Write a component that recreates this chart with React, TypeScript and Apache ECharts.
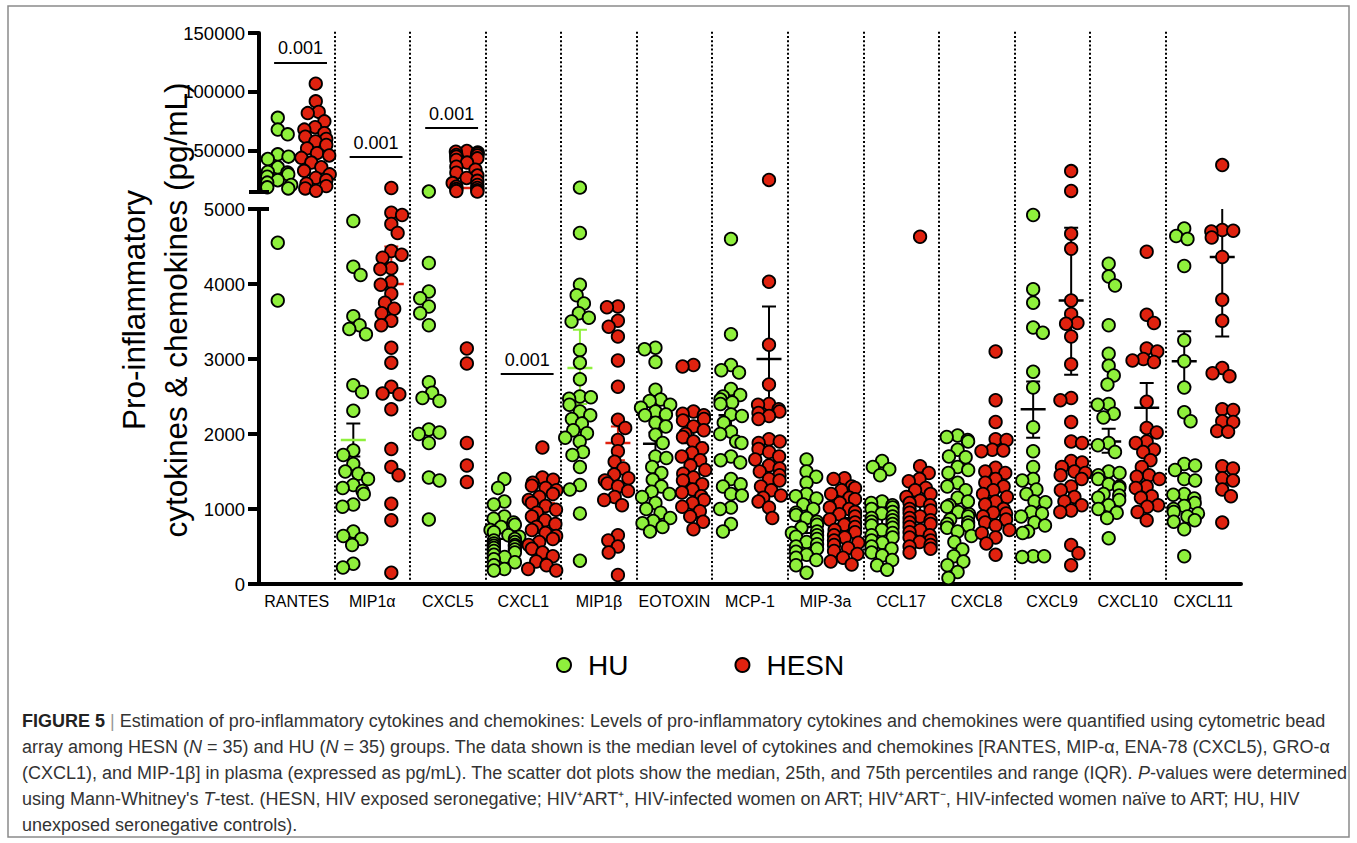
import React, { useEffect, useRef } from 'react';
import * as echarts from 'echarts';

// ---------------- DATA ----------------
const CATEGORIES = ['RANTES', 'MIP1α', 'CXCL5', 'CXCL1', 'MIP1β', 'EOTOXIN', 'MCP-1', 'MIP-3a', 'CCL17', 'CXCL8', 'CXCL9', 'CXCL10', 'CXCL11'];

const HU_RANTES = [78000, 68000, 64000, 47000, 45000, 43000, 36000, 32000, 31500, 30000, 28000, 25000, 23000, 21000, 19000, 18000, 4550, 3780];
const HESN_RANTES = [107000, 92000, 83000, 82000, 75000, 70000, 68000, 65000, 62000, 60000, 58000, 55000, 52000, 48000, 46000, 44000, 40000, 36000, 33000, 30000, 27000, 25000, 22000, 20000, 18000, 16000];
const HU_MIP1A = [4840, 4230, 4120, 3570, 3450, 3400, 3330, 2650, 2560, 2310, 1780, 1720, 1600, 1500, 1470, 1400, 1320, 1280, 1240, 1200, 1060, 1030, 700, 640, 600, 520, 270, 220];
const HESN_MIP1A = [18400, 4950, 4920, 4800, 4680, 4440, 4390, 4350, 4210, 4200, 4030, 3990, 3870, 3750, 3670, 3610, 3510, 3450, 3150, 2950, 2630, 2540, 2530, 2330, 1800, 1560, 1450, 1070, 850, 150];
const HU_CXCL5 = [15400, 4280, 3900, 3810, 3700, 3610, 3450, 2690, 2550, 2480, 2440, 2060, 2020, 2000, 1880, 1420, 1380, 860];
const HESN_CXCL5 = [49800, 49200, 48500, 47500, 46400, 46000, 45000, 43600, 42200, 40000, 36500, 34000, 31400, 29000, 26900, 24500, 22600, 21000, 19500, 18400, 17500, 16500, 15800, 15300, 3140, 2940, 1880, 1580, 1360];
const HU_CXCL1 = [1400, 1280, 1100, 1060, 900, 870, 820, 790, 760, 720, 690, 650, 630, 600, 580, 560, 540, 520, 510, 500, 480, 460, 440, 420, 390, 360, 330, 290, 250, 200, 180];
const HESN_CXCL1 = [1820, 1420, 1390, 1350, 1310, 1280, 1250, 1200, 1160, 1120, 1080, 1040, 990, 950, 900, 850, 800, 760, 720, 680, 640, 600, 560, 520, 470, 420, 370, 300, 250, 200, 180];
const HU_MIP1B = [18700, 4680, 3990, 3850, 3740, 3610, 3550, 3500, 3120, 2950, 2730, 2500, 2490, 2470, 2390, 2300, 2250, 2200, 2140, 2050, 2010, 1950, 1900, 1760, 1720, 1560, 1320, 1260, 940, 310];
const HESN_MIP1B = [3700, 3690, 3510, 3430, 3300, 2980, 2630, 2190, 2080, 1920, 1770, 1630, 1540, 1460, 1410, 1380, 1340, 1300, 1240, 1160, 1120, 1050, 650, 580, 500, 420, 120];
const HU_EOTOXIN = [3150, 3130, 2960, 2590, 2460, 2440, 2390, 2350, 2300, 2260, 2250, 2150, 2100, 1990, 1880, 1700, 1680, 1560, 1480, 1390, 1300, 1230, 1200, 1160, 1080, 1000, 950, 880, 840, 810, 760, 700];
const HESN_EOTOXIN = [2920, 2900, 2300, 2270, 2250, 2200, 2180, 2100, 2050, 2000, 1960, 1900, 1810, 1750, 1700, 1650, 1580, 1520, 1470, 1420, 1380, 1330, 1260, 1220, 1170, 1120, 1080, 1030, 970, 900, 830, 730];
const HU_MCP1 = [4600, 3330, 2920, 2850, 2820, 2600, 2520, 2500, 2460, 2420, 2400, 2260, 2240, 2150, 2030, 2000, 1900, 1880, 1700, 1650, 1620, 1400, 1330, 1300, 1200, 1180, 1020, 1000, 800, 700];
const HESN_MCP1 = [25200, 4030, 3190, 2660, 2400, 2390, 2330, 2300, 2280, 2240, 2200, 1930, 1900, 1880, 1800, 1760, 1700, 1660, 1580, 1540, 1500, 1450, 1400, 1380, 1300, 1250, 1180, 1150, 1100, 1020, 880];
const HU_MIP3A = [1660, 1500, 1430, 1350, 1200, 1170, 1140, 1060, 1000, 950, 920, 880, 830, 790, 750, 700, 680, 650, 630, 600, 560, 530, 500, 470, 430, 390, 350, 320, 250, 150];
const HESN_MIP3A = [1410, 1400, 1300, 1280, 1250, 1200, 1150, 1130, 1080, 1020, 1000, 960, 930, 900, 860, 820, 790, 760, 720, 690, 650, 620, 580, 550, 520, 480, 440, 400, 350, 300, 260];
const HU_CCL17 = [1640, 1560, 1530, 1450, 1100, 1080, 1050, 1020, 1000, 960, 940, 900, 880, 850, 830, 800, 780, 750, 720, 680, 650, 620, 580, 550, 500, 470, 420, 380, 320, 250, 190];
const HESN_CCL17 = [4630, 1570, 1480, 1400, 1370, 1280, 1250, 1200, 1160, 1110, 1080, 1050, 1000, 980, 950, 900, 880, 850, 820, 800, 760, 720, 690, 650, 620, 580, 560, 520, 500, 470, 420];
const HU_CXCL8 = [1980, 1960, 1920, 1900, 1790, 1700, 1690, 1560, 1520, 1480, 1350, 1300, 1250, 1150, 1100, 1050, 1030, 960, 930, 900, 860, 820, 800, 780, 750, 700, 640, 560, 460, 370, 300, 250, 160, 80];
const HESN_CXCL8 = [3100, 2450, 2160, 1930, 1920, 1790, 1780, 1770, 1550, 1500, 1480, 1400, 1350, 1300, 1250, 1200, 1160, 1100, 1060, 1000, 950, 940, 900, 860, 820, 780, 720, 680, 620, 540, 390];
const HU_CXCL9 = [4920, 3930, 3750, 3420, 3350, 2830, 2620, 2090, 1770, 1560, 1400, 1380, 1260, 1200, 1100, 1090, 960, 940, 900, 820, 780, 700, 680, 370, 370, 360];
const HESN_CXCL9 = [32800, 15900, 4670, 4470, 3780, 3600, 3480, 3470, 3300, 2930, 2480, 2450, 2160, 1900, 1880, 1640, 1620, 1560, 1500, 1480, 1450, 1400, 1300, 1250, 1160, 1100, 1050, 980, 960, 520, 410, 250];
const HU_CXCL10 = [4270, 4100, 3980, 3450, 3070, 2910, 2780, 2660, 2400, 2390, 2270, 2220, 1880, 1850, 1760, 1500, 1480, 1450, 1400, 1330, 1300, 1280, 1200, 1180, 1150, 1120, 1050, 1000, 950, 880, 610];
const HESN_CXCL10 = [4430, 3590, 3480, 3140, 3100, 3000, 2980, 2960, 2430, 2080, 2020, 1900, 1880, 1790, 1760, 1650, 1560, 1450, 1430, 1400, 1300, 1280, 1170, 1150, 1050, 1030, 960, 850];
const HU_CXCL11 = [4740, 4640, 4600, 4240, 3250, 2970, 2620, 2290, 2170, 1600, 1580, 1520, 1400, 1380, 1200, 1190, 1140, 1080, 1040, 1000, 960, 940, 900, 850, 830, 730, 370];
const HESN_CXCL11 = [37900, 4720, 4710, 4700, 4620, 4360, 3790, 3510, 2880, 2810, 2770, 2330, 2320, 2170, 2160, 2040, 2030, 1570, 1540, 1410, 1380, 1260, 1170, 820];

const HU_VALUES = [HU_RANTES, HU_MIP1A, HU_CXCL5, HU_CXCL1, HU_MIP1B, HU_EOTOXIN, HU_MCP1, HU_MIP3A, HU_CCL17, HU_CXCL8, HU_CXCL9, HU_CXCL10, HU_CXCL11];
const HESN_VALUES = [HESN_RANTES, HESN_MIP1A, HESN_CXCL5, HESN_CXCL1, HESN_MIP1B, HESN_EOTOXIN, HESN_MCP1, HESN_MIP3A, HESN_CCL17, HESN_CXCL8, HESN_CXCL9, HESN_CXCL10, HESN_CXCL11];

// centre line and error bar (null = not drawn)
const HU_MEAN = [null, 1920, null, 700, 2880, 1870, 2250, 760, 790, 1000, 2330, 1900, 2970];
const HU_LOW = [null, 1700, null, 600, 2400, 1720, 2050, 680, 700, 900, 1950, 1750, 2630];
const HU_HIGH = [null, 2140, null, 800, 3390, 2020, 2450, 840, 880, 1100, 2700, 2070, 3370];
const HESN_MEAN = [70000, 4000, 18400, 1080, 1880, 1880, 3000, 800, 1050, 1150, 3780, 2350, 4360];
const HESN_LOW = [null, 3550, null, null, 1650, 1730, 2300, 720, 950, 1050, 2790, 2050, 3300];
const HESN_HIGH = [null, 4500, null, null, 2100, 2030, 3700, 880, 1150, 1250, 4750, 2680, 5450];
// tone keys: k = black, g = group green, r = group red
const HU_MEAN_TONE = ['k', 'g', 'k', 'g', 'g', 'k', 'k', 'k', 'k', 'k', 'k', 'k', 'k'];
const HU_ERR_TONE = ['k', 'k', 'k', 'k', 'g', 'k', 'k', 'k', 'k', 'k', 'k', 'k', 'k'];
const HESN_MEAN_TONE = ['r', 'r', 'r', 'r', 'r', 'k', 'k', 'k', 'k', 'k', 'k', 'k', 'k'];
const HESN_ERR_TONE = ['k', 'r', 'k', 'k', 'r', 'k', 'k', 'k', 'k', 'k', 'k', 'k', 'k'];

const PVAL_CATS = [0, 1, 2, 3];
const PVAL_Y = [125000, 44700, 69300, 2800];
const PVAL_TEXT = ['0.001', '0.001', '0.001', '0.001'];

const UPPER_TICKS = [50000, 100000, 150000];

// ---------------- LAYOUT ----------------
const FONT = '"Liberation Sans", Arial, Helvetica, sans-serif';
const GREEN = '#8FF03C';
const RED = '#E0220F';
const GRID_LEFT = 259;
const GRID_RIGHT_X = 1241;
const UP_TOP = 33, UP_BOTTOM = 192, LOW_TOP = 209, LOW_BOTTOM = 584;
const UP_MIN = 15000, UP_MAX = 150000, LOW_MAX = 5000;
const CAT_W = (GRID_RIGHT_X - GRID_LEFT) / CATEGORIES.length;
const GROUP_OFF = 19 / CAT_W;
const DOT = 11;
const MAX_OFF = 15;

function pixelY(v: number) {
  return v <= LOW_MAX
    ? LOW_BOTTOM - (v / LOW_MAX) * (LOW_BOTTOM - LOW_TOP)
    : UP_BOTTOM - ((v - UP_MIN) / (UP_MAX - UP_MIN)) * (UP_BOTTOM - UP_TOP);
}

// beeswarm horizontal offsets in px
function swarm(values: number[]): number[] {
  const order = values.map((_, i) => i).sort((a, b) => values[b] - values[a]);
  const placed: { x: number; y: number }[] = [];
  const out = new Array(values.length).fill(0);
  let flip = 1;
  for (const i of order) {
    const y = pixelY(values[i]);
    const near = placed.filter((p) => Math.abs(p.y - y) < DOT);
    const cands = [0];
    for (const p of near) {
      const dx = Math.sqrt(DOT * DOT - (p.y - y) * (p.y - y));
      cands.push(p.x + dx * flip, p.x - dx * flip);
    }
    cands.sort((a, b) => Math.abs(a) - Math.abs(b));
    let best: number | null = null;
    for (const c of cands) {
      if (Math.abs(c) > MAX_OFF) continue;
      if (near.every((p) => (p.x - c) ** 2 + (p.y - y) ** 2 >= DOT * DOT - 0.5)) {
        best = c;
        break;
      }
    }
    if (best === null) {
      best = (placed.length % 2 ? 1 : -1) * MAX_OFF * 0.7;
    }
    flip = -flip;
    out[i] = best;
    placed.push({ x: best, y });
  }
  return out;
}

function buildPoints(all: number[][], side: number) {
  const upper: number[][] = [];
  const lower: number[][] = [];
  all.forEach((vals, c) => {
    const offs = swarm(vals);
    vals.forEach((v, k) => {
      const x = c + 0.5 + side * GROUP_OFF + offs[k] / CAT_W;
      (v > LOW_MAX ? upper : lower).push([x, v]);
    });
  });
  return { upper, lower };
}

type StatItem = { x: number; mean: number; low: number | null; high: number | null; mc: string; ec: string };

function buildStats(mean: (number | null)[], low: (number | null)[], high: (number | null)[], mt: string[], et: string[], side: number, groupColor: string) {
  const tone = (t: string) => (t === 'k' ? '#000' : groupColor);
  const upper: StatItem[] = [];
  const lower: StatItem[] = [];
  mean.forEach((m, c) => {
    if (m == null) return;
    const it: StatItem = { x: c + 0.5 + side * GROUP_OFF, mean: m, low: low[c], high: high[c], mc: tone(mt[c]), ec: tone(et[c]) };
    (m > LOW_MAX ? upper : lower).push(it);
  });
  return { upper, lower };
}

function statSeries(items: StatItem[], xi: number, yi: number) {
  return {
    type: 'custom',
    xAxisIndex: xi,
    yAxisIndex: yi,
    z: 3,
    clip: true,
    silent: true,
    data: items.map((it) => [it.x, it.mean]),
    renderItem: (params: any, api: any) => {
      const it = items[params.dataIndex];
      const pm = api.coord([it.x, it.mean]);
      const children: any[] = [];
      if (it.low != null && it.high != null) {
        const plo = api.coord([it.x, it.low]);
        const phi = api.coord([it.x, it.high]);
        const st = { stroke: it.ec, lineWidth: 2 };
        children.push({ type: 'line', shape: { x1: pm[0], y1: plo[1], x2: pm[0], y2: phi[1] }, style: st });
        children.push({ type: 'line', shape: { x1: pm[0] - 7, y1: plo[1], x2: pm[0] + 7, y2: plo[1] }, style: st });
        children.push({ type: 'line', shape: { x1: pm[0] - 7, y1: phi[1], x2: pm[0] + 7, y2: phi[1] }, style: st });
      }
      children.push({ type: 'line', shape: { x1: pm[0] - 12.5, y1: pm[1], x2: pm[0] + 12.5, y2: pm[1] }, style: { stroke: it.mc, lineWidth: 2.5 } });
      return { type: 'group', children };
    },
  };
}

function capSeries(v: number, xi: number, yi: number) {
  return {
    type: 'custom',
    xAxisIndex: xi,
    yAxisIndex: yi,
    z: 10,
    clip: false,
    silent: true,
    data: [[0, v]],
    renderItem: (_p: any, api: any) => {
      const p = api.coord([0, v]);
      return { type: 'line', shape: { x1: p[0] - 10, y1: p[1], x2: p[0] + 10, y2: p[1] }, style: { stroke: '#000', lineWidth: 4 } };
    },
  };
}

export default function App() {
  const ref = useRef<HTMLDivElement>(null);
  useEffect(() => {
    if (!ref.current) return;
    const chart = echarts.init(ref.current, null, { renderer: 'svg' });

    const hu = buildPoints(HU_VALUES, -1);
    const hesn = buildPoints(HESN_VALUES, 1);
    const huStats = buildStats(HU_MEAN, HU_LOW, HU_HIGH, HU_MEAN_TONE, HU_ERR_TONE, -1, GREEN);
    const hesnStats = buildStats(HESN_MEAN, HESN_LOW, HESN_HIGH, HESN_MEAN_TONE, HESN_ERR_TONE, 1, RED);

    const dotStyle = (color: string) => ({ color, borderColor: '#000', borderWidth: 1.8, opacity: 1 });
    const scatter = (name: string, data: number[][], color: string, xi: number, yi: number) => ({
      type: 'scatter',
      name,
      data,
      xAxisIndex: xi,
      yAxisIndex: yi,
      symbol: 'circle',
      symbolSize: 12.5,
      itemStyle: dotStyle(color),
      z: 5,
      clip: false,
      silent: true,
    });

    const pvalLines = (which: 'upper' | 'lower') =>
      PVAL_CATS.map((c, i) => ({ c, y: PVAL_Y[i], t: PVAL_TEXT[i] }))
        .filter((p) => (which === 'upper' ? p.y > LOW_MAX : p.y <= LOW_MAX))
        .map((p) => [
          { coord: [p.c + 0.2, p.y], label: { formatter: p.t } },
          { coord: [p.c + 0.9, p.y] },
        ]);

    const pvalMark = (which: 'upper' | 'lower') => ({
      symbol: ['none', 'none'],
      silent: true,
      lineStyle: { color: '#000', width: 2, type: 'solid' },
      label: { show: true, position: 'insideMiddleTop', distance: 5, color: '#000', fontSize: 18, fontFamily: FONT },
      data: pvalLines(which),
    });

    const axisLabelStyle = { color: '#000', fontSize: 18.5, fontFamily: FONT, margin: 14, formatter: (v: number) => String(v) };

    const option: any = {
      animation: false,
      backgroundColor: '#fff',
      grid: [
        { left: GRID_LEFT, top: UP_TOP, width: GRID_RIGHT_X - GRID_LEFT, height: UP_BOTTOM - UP_TOP },
        { left: GRID_LEFT, top: LOW_TOP, width: GRID_RIGHT_X - GRID_LEFT, height: LOW_BOTTOM - LOW_TOP },
        { left: GRID_LEFT, top: 31, width: GRID_RIGHT_X - GRID_LEFT, height: LOW_BOTTOM - 31 },
      ],
      xAxis: [
        { type: 'value', gridIndex: 0, min: 0, max: 13, show: false, position: 'bottom' },
        { type: 'value', gridIndex: 1, min: 0, max: 13, show: false, position: 'top' },
        {
          type: 'category',
          gridIndex: 1,
          position: 'bottom',
          data: CATEGORIES,
          boundaryGap: true,
          axisLine: { show: true, lineStyle: { color: '#000', width: 4 } },
          axisTick: { show: false },
          axisLabel: { color: '#000', fontSize: 16, fontFamily: FONT, margin: 9, interval: 0 },
          splitLine: { show: false },
        },
        { type: 'value', gridIndex: 2, min: 0, max: 13, show: false },
      ],
      yAxis: [
        {
          type: 'value',
          gridIndex: 0,
          min: UP_MIN,
          max: UP_MAX,
          axisLine: { show: true, lineStyle: { color: '#000', width: 4 } },
          axisTick: { show: true, length: 11, lineStyle: { color: '#000', width: 4 }, customValues: UPPER_TICKS },
          axisLabel: { ...axisLabelStyle, customValues: UPPER_TICKS },
          splitLine: { show: false },
        },
        {
          type: 'value',
          gridIndex: 1,
          min: 0,
          max: LOW_MAX,
          interval: 1000,
          axisLine: { show: true, lineStyle: { color: '#000', width: 4 } },
          axisTick: { show: true, length: 11, lineStyle: { color: '#000', width: 4 } },
          axisLabel: axisLabelStyle,
          splitLine: { show: false },
        },
        { type: 'value', gridIndex: 2, min: 0, max: 1, show: false },
      ],
      legend: {
        data: ['HU', 'HESN'],
        left: 551,
        top: 646,
        itemWidth: 14,
        itemHeight: 14,
        itemGap: 106,
        icon: 'circle',
        textStyle: { fontSize: 28, color: '#000', fontFamily: FONT, padding: [0, 0, 0, 12] },
        selectedMode: false,
      },
      series: [
        {
          type: 'scatter',
          xAxisIndex: 3,
          yAxisIndex: 2,
          data: [],
          z: 1,
          silent: true,
          markLine: {
            symbol: ['none', 'none'],
            silent: true,
            label: { show: false },
            lineStyle: { color: '#000', width: 2, type: [2, 2.2] },
            data: CATEGORIES.slice(1).map((_, i) => ({ xAxis: i + 1 })),
          },
        },
        statSeries(huStats.upper, 0, 0),
        statSeries(huStats.lower, 1, 1),
        statSeries(hesnStats.upper, 0, 0),
        statSeries(hesnStats.lower, 1, 1),
        scatter('HU', hu.upper, GREEN, 0, 0),
        scatter('HU', hu.lower, GREEN, 1, 1),
        scatter('HESN', hesn.upper, RED, 0, 0),
        scatter('HESN', hesn.lower, RED, 1, 1),
        { type: 'scatter', xAxisIndex: 0, yAxisIndex: 0, data: [], silent: true, markLine: pvalMark('upper') },
        { type: 'scatter', xAxisIndex: 1, yAxisIndex: 1, data: [], silent: true, markLine: pvalMark('lower') },
        capSeries(UP_MIN, 0, 0),
        capSeries(LOW_MAX, 1, 1),
      ],
      graphic: [
        {
          type: 'rect',
          shape: { x: 8, y: 6, width: 1341, height: 831 },
          style: { fill: 'none', stroke: '#8a8a8a', lineWidth: 1.5 },
          silent: true,
        },
        {
          type: 'text',
          x: 155,
          y: 310,
          rotation: Math.PI / 2,
          silent: true,
          style: {
            text: 'Pro-inflammatory\ncytokines & chemokines (pg/mL)',
            fontSize: 31.5,
            fontFamily: FONT,
            fill: '#000',
            align: 'center',
            verticalAlign: 'middle',
            lineHeight: 42,
          },
        },
        ...[
          '{b|FIGURE 5} {g||} Estimation of pro-inflammatory cytokines and chemokines: Levels of pro-inflammatory cytokines and chemokines were quantified using cytometric bead',
          'array among HESN ({i|N} = 35) and HU ({i|N} = 35) groups. The data shown is the median level of cytokines and chemokines [RANTES, MIP-α, ENA-78 (CXCL5), GRO-α',
          '(CXCL1), and MIP-1β] in plasma (expressed as pg/mL). The scatter dot plots show the median, 25th, and 75th percentiles and range (IQR). {i|P}-values were determined',
          "using Mann-Whitney's {i|T}-test. (HESN, HIV exposed seronegative; HIV⁺ART⁺, HIV-infected women on ART; HIV⁺ART⁻, HIV-infected women naïve to ART; HU, HIV",
          'unexposed seronegative controls).',
        ].map((t, i) => ({
          type: 'text',
          x: 22,
          y: 721 + i * 26,
          silent: true,
          style: {
            text: t,
            fontSize: 18,
            fontFamily: FONT,
            fill: '#333',
            verticalAlign: 'middle',
            rich: {
              b: { fontWeight: 'bold', fontSize: 18, fontFamily: FONT, fill: '#222' },
              i: { fontStyle: 'italic', fontSize: 18, fontFamily: FONT, fill: '#333' },
              g: { fontSize: 18, fontFamily: FONT, fill: '#999' },
            },
          },
        })),
      ],
    };

    chart.setOption(option);
    return () => chart.dispose();
  }, []);

  return <div ref={ref} style={{ position: 'fixed', left: 0, top: 0, width: 1357, height: 843, background: '#fff' }} />;
}
